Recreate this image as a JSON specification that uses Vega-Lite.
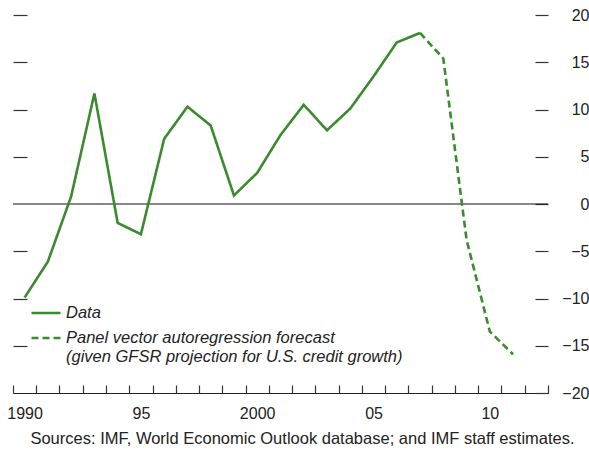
{
  "$schema": "https://vega.github.io/schema/vega-lite/v6.json",
  "width": 535,
  "height": 378,
  "autosize": {"type": "none"},
  "padding": {"left": 13, "top": 15, "right": 41, "bottom": 63},
  "background": "white",
  "config": {
    "view": {"stroke": null},
    "font": "Liberation Sans",
    "axis": {"labelFont": "Liberation Sans", "labelFontSize": 16, "labelColor": "#222", "tickColor": "#333", "domainColor": "#222", "grid": false, "title": null}
  },
  "title": {
    "text": "Sources: IMF, World Economic Outlook database; and IMF staff estimates.",
    "orient": "bottom",
    "anchor": "middle",
    "frame": "group",
    "dx": 22,
    "offset": 10,
    "font": "Liberation Sans",
    "fontSize": 16.5,
    "fontWeight": "normal",
    "color": "#222"
  },
  "layer": [
    {
      "data": {"values": [{"k": 1}]},
      "mark": {"type": "rule", "color": "#111", "strokeWidth": 1.2},
      "encoding": {
        "y": {
          "datum": 0,
          "type": "quantitative",
          "scale": {"domain": [-20, 20], "nice": false},
          "axis": {"orient": "left", "values": [-15, -10, -5, 5, 10, 15, 20], "labels": false, "domain": false, "tickSize": -14, "tickWidth": 1.2}
        }
      }
    },
    {
      "data": {
        "values": [
          {"year": "1990", "value": -9.9, "series": "Data"},
          {"year": "1991", "value": -6.1, "series": "Data"},
          {"year": "1992", "value": 0.8, "series": "Data"},
          {"year": "1993", "value": 11.7, "series": "Data"},
          {"year": "1994", "value": -2.0, "series": "Data"},
          {"year": "1995", "value": -3.2, "series": "Data"},
          {"year": "1996", "value": 6.9, "series": "Data"},
          {"year": "1997", "value": 10.3, "series": "Data"},
          {"year": "1998", "value": 8.3, "series": "Data"},
          {"year": "1999", "value": 0.9, "series": "Data"},
          {"year": "2000", "value": 3.3, "series": "Data"},
          {"year": "2001", "value": 7.3, "series": "Data"},
          {"year": "2002", "value": 10.5, "series": "Data"},
          {"year": "2003", "value": 7.8, "series": "Data"},
          {"year": "2004", "value": 10.1, "series": "Data"},
          {"year": "2005", "value": 13.5, "series": "Data"},
          {"year": "2006", "value": 17.1, "series": "Data"},
          {"year": "2007", "value": 18.1, "series": "Data"},
          {"year": "2007", "value": 18.1, "series": "Forecast"},
          {"year": "2008", "value": 15.4, "series": "Forecast"},
          {"year": "2009", "value": -3.8, "series": "Forecast"},
          {"year": "2010", "value": -13.5, "series": "Forecast"},
          {"year": "2011", "value": -15.9, "series": "Forecast"}
        ]
      },
      "mark": {"type": "line", "strokeWidth": 2.6},
      "encoding": {
        "x": {
          "field": "year",
          "timeUnit": "utcyear",
          "type": "temporal",
          "bandPosition": 0.5,
          "scale": {"domain": [{"year": 1990, "utc": true}, {"year": 2013, "utc": true}]},
          "axis": {
            "orient": "bottom",
            "tickCount": {"interval": "year", "step": 1},
            "tickSize": -8,
            "tickWidth": 1.2,
            "domainWidth": 1.2,
            "labelOffset": 11.6,
            "labelFlush": false,
            "labelOverlap": false,
            "labelPadding": 20,
            "labelExpr": "(utcyear(datum.value) == 1990 || utcyear(datum.value) == 2000) ? ('' + utcyear(datum.value)) : ((utcyear(datum.value) % 5 == 0 && utcyear(datum.value) < 2013) ? slice('' + utcyear(datum.value), 2) : '')"
          }
        },
        "y": {
          "field": "value",
          "type": "quantitative",
          "scale": {"domain": [-20, 20], "nice": false},
          "axis": {"orient": "right", "values": [-20, -15, -10, -5, 0, 5, 10, 15, 20], "domain": false, "tickSize": -13, "tickWidth": 1.2, "labelAlign": "right", "labelPadding": 54}
        },
        "color": {
          "field": "series",
          "type": "nominal",
          "scale": {"domain": ["Data", "Forecast"], "range": ["#3a8a2e", "#3a8a2e"]},
          "legend": {
            "title": null,
            "orient": "none",
            "legendX": 17,
            "legendY": 282,
            "padding": 0,
            "symbolType": "stroke",
            "symbolSize": 841,
            "symbolStrokeWidth": 2.6,
            "labelFont": "Liberation Sans",
            "labelFontSize": 16.5,
            "labelFontStyle": "italic",
            "labelColor": "#222",
            "labelOffset": 4,
            "labelLimit": 0,
            "rowPadding": 0,
            "labelExpr": "datum.label == 'Data' ? 'Data' : ['Panel vector autoregression forecast', '(given GFSR projection for U.S. credit growth)']"
          }
        },
        "strokeDash": {
          "field": "series",
          "type": "nominal",
          "scale": {"domain": ["Data", "Forecast"], "range": [[1, 0], [7, 4]]},
          "legend": {
            "title": null,
            "orient": "none",
            "legendX": 17,
            "legendY": 282,
            "padding": 0,
            "symbolType": "stroke",
            "symbolSize": 841,
            "symbolStrokeWidth": 2.6,
            "labelFont": "Liberation Sans",
            "labelFontSize": 16.5,
            "labelFontStyle": "italic",
            "labelColor": "#222",
            "labelOffset": 4,
            "labelLimit": 0,
            "rowPadding": 0,
            "labelExpr": "datum.label == 'Data' ? 'Data' : ['Panel vector autoregression forecast', '(given GFSR projection for U.S. credit growth)']"
          }
        }
      }
    }
  ],
  "resolve": {"axis": {"y": "independent"}}
}
